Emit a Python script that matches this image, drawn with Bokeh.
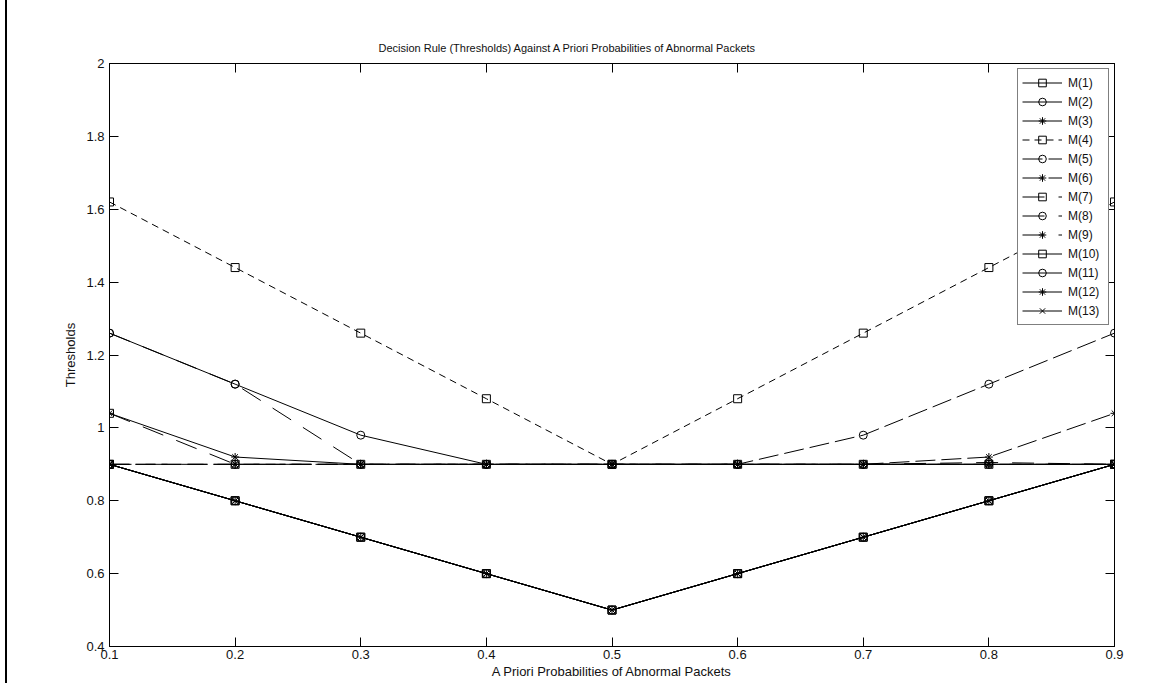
from bokeh.plotting import figure
from bokeh.models import FixedTicker, CustomJSTickFormatter, LinearAxis, Range1d
from bokeh.embed import file_html
from bokeh.resources import INLINE

# ---- data ----
x = [0.1, 0.2, 0.3, 0.4, 0.5, 0.6, 0.7, 0.8, 0.9]
x_ticks = [0.1, 0.2, 0.3, 0.4, 0.5, 0.6, 0.7, 0.8, 0.9]
y_ticks = [0.4, 0.6, 0.8, 1.0, 1.2, 1.4, 1.6, 1.8, 2.0]
names = ["M(1)", "M(2)", "M(3)", "M(4)", "M(5)", "M(6)", "M(7)",
         "M(8)", "M(9)", "M(10)", "M(11)", "M(12)", "M(13)"]

m1 = [0.9, 0.8, 0.7, 0.6, 0.5, 0.6, 0.7, 0.8, 0.9]
m2 = [1.26, 1.12, 0.98, 0.9, 0.9, 0.9, 0.9, 0.9, 0.9]
m3 = [1.04, 0.92, 0.9, 0.9, 0.9, 0.9, 0.9, 0.9, 0.9]
m4 = [1.62, 1.44, 1.26, 1.08, 0.9, 1.08, 1.26, 1.44, 1.62]
m5 = [0.9, 0.9, 0.9, 0.9, 0.9, 0.9, 0.98, 1.12, 1.26]
m6 = [0.9, 0.9, 0.9, 0.9, 0.9, 0.9, 0.9, 0.92, 1.04]
m7 = [1.04, 0.9, 0.9, 0.9, 0.9, 0.9, 0.9, 0.9, 0.9]
m8 = [1.26, 1.12, 0.9, 0.9, 0.9, 0.9, 0.9, 0.905, 0.9]
m9 = [0.9, 0.9, 0.9, 0.9, 0.9, 0.9, 0.9, 0.9, 0.9]
m10 = [0.9, 0.8, 0.7, 0.6, 0.5, 0.6, 0.7, 0.8, 0.9]
m11 = [0.9, 0.8, 0.7, 0.6, 0.5, 0.6, 0.7, 0.8, 0.9]
m12 = [0.9, 0.8, 0.7, 0.6, 0.5, 0.6, 0.7, 0.8, 0.9]
m13 = [0.9, 0.8, 0.7, 0.6, 0.5, 0.6, 0.7, 0.8, 0.9]
series = [m1, m2, m3, m4, m5, m6, m7, m8, m9, m10, m11, m12, m13]

# ---- styles ----
markers = ["square", "circle", "asterisk", "square", "circle", "asterisk", "square",
           "circle", "asterisk", "square", "circle", "asterisk", "x"]
dashes = ["solid", "solid", "solid", "7 5", "20 6", "20 6", "22 14",
          "22 14", "22 14", "solid", "solid", "solid", "solid"]

FONT = "Liberation Sans"

p = figure(width=1154, height=683, output_backend="svg", toolbar_location=None,
           x_range=Range1d(0.1, 0.9), y_range=Range1d(0.4, 2.0),
           min_border_left=109, min_border_right=40, min_border_top=63,
           min_border_bottom=37)
p.background_fill_color = "white"
p.border_fill_alpha = 0.0
p.styles = {"background": "linear-gradient(90deg, #fff 0px, #fff 5px, #000 5px, #000 7px, #fff 7px, #fff 100%)"}
p.outline_line_color = "black"
p.outline_line_width = 1
p.xgrid.visible = False
p.ygrid.visible = False

p.title.text = "Decision Rule (Thresholds) Against A Priori Probabilities of Abnormal Packets"
p.title.align = "left"
p.title.offset = 269
p.title.text_font = FONT
p.title.text_font_size = "11px"
p.title.text_font_style = "normal"
p.title.text_color = "#111111"
p.title.standoff = 19

fmt = CustomJSTickFormatter(code="return (Math.round(tick*10)/10).toString();")
blank = CustomJSTickFormatter(code="return '';")

for ax, ticks in ((p.xaxis[0], x_ticks), (p.yaxis[0], y_ticks)):
    ax.ticker = FixedTicker(ticks=ticks)
    ax.formatter = fmt
    ax.major_tick_in = 9
    ax.major_tick_out = 0
    ax.minor_tick_line_color = None
    ax.axis_line_color = "black"
    ax.major_tick_line_color = "black"
    ax.major_label_text_font = FONT
    ax.major_label_text_font_size = "13px"
    ax.major_label_text_color = "#111111"
    ax.axis_label_text_font = FONT
    ax.axis_label_text_font_size = "13px"
    ax.axis_label_text_font_style = "normal"
    ax.axis_label_text_color = "#111111"

p.xaxis.axis_label = "A Priori Probabilities of Abnormal Packets"
p.xaxis.major_label_standoff = 3
p.xaxis.axis_label_standoff = 2
p.yaxis.axis_label = "Thresholds"
p.yaxis.major_label_standoff = 5
p.yaxis.axis_label_standoff = 5

for loc, ticks in (("right", y_ticks), ("above", x_ticks)):
    ax = LinearAxis(ticker=FixedTicker(ticks=ticks), formatter=blank)
    ax.major_tick_in = 9
    ax.major_tick_out = 0
    ax.minor_tick_line_color = None
    ax.major_label_standoff = 0
    ax.axis_line_color = "black"
    ax.major_tick_line_color = "black"
    p.add_layout(ax, loc)

for i, (ys, name) in enumerate(zip(series, names)):
    p.line(x, ys, line_color="black", line_width=1, line_dash=dashes[i],
           legend_label=name)
for i, (ys, name) in enumerate(zip(series, names)):
    p.scatter(x, ys, marker=markers[i], size=8, line_color="black",
              fill_color=None, line_width=1, legend_label=name)

lg = p.legend[0]
lg.location = "top_right"
lg.margin = 5
lg.padding = 4
lg.spacing = 0
lg.glyph_width = 40
lg.glyph_height = 19
lg.label_height = 19
lg.label_width = 36
lg.label_standoff = 6
lg.label_text_font = FONT
lg.label_text_font_size = "12px"
lg.label_text_color = "#111111"
lg.border_line_color = "black"
lg.border_line_width = 1
lg.background_fill_color = "white"
lg.background_fill_alpha = 1.0

open("out.html", "w").write(file_html(p, INLINE))
